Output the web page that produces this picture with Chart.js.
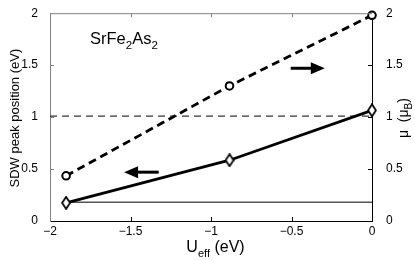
<!DOCTYPE html>
<html><head><meta charset="utf-8">
<script src="https://cdn.jsdelivr.net/npm/chart.js@4/dist/chart.umd.min.js"></script>
<style>html,body{margin:0;padding:0;background:#fff}</style>
</head><body>
<canvas id="c" width="415" height="260"></canvas>
<script>
// ---- data ----
const uEff = [-1.9, -0.885, 0];
const sdwPeak = [0.175, 0.585, 1.065];      // left axis (eV)
const moment = [0.435, 1.30, 1.98];         // right axis (mu_B)
const refSolidX = [-1.9, 0];
const refSolidY = 0.18;
const refDashX = [-2, 0];
const refDashY = 1.01;
const xTicks = [-2, -1.5, -1, -0.5, 0];
const xTickLabels = ['\u22122', '\u22121.5', '\u22121', '\u22120.5', '0'];
const yTicks = [0, 0.5, 1, 1.5, 2];
const yTickLabels = ['0', '0.5', '1', '1.5', '2'];
const arrowLeft = { x0: -1.325, x1: -1.54, y: 0.47, axis: 'y' };
const arrowRight = { x0: -0.505, x1: -0.293, y: 1.47, axis: 'y2' };

const FONT = '"Liberation Sans", Arial, Helvetica, sans-serif';

// MATLAB-like diamond marker
function diamond() {
  const c = document.createElement('canvas');
  c.width = 10; c.height = 14;
  const g = c.getContext('2d');
  g.beginPath();
  g.moveTo(5, 1); g.lineTo(9, 7); g.lineTo(5, 13); g.lineTo(1, 7); g.closePath();
  g.fillStyle = '#fff'; g.fill();
  g.lineWidth = 1.8; g.strokeStyle = '#000'; g.stroke();
  return c;
}

function pts(xs, ys) { return xs.map((x, i) => ({ x: x, y: Array.isArray(ys) ? ys[i] : ys })); }

function richWidth(ctx, parts, size, subSize) {
  let w = 0;
  for (const p of parts) {
    ctx.font = (p.sub ? subSize : size) + 'px ' + FONT;
    w += ctx.measureText(p.t).width;
  }
  return w;
}
function drawRich(ctx, parts, x, y, size, subSize, subDrop) {
  let cx = x;
  ctx.textAlign = 'left';
  ctx.textBaseline = 'alphabetic';
  for (const p of parts) {
    ctx.font = (p.sub ? subSize : size) + 'px ' + FONT;
    ctx.fillText(p.t, cx, p.sub ? y + subDrop : y);
    cx += ctx.measureText(p.t).width;
  }
}

const decor = {
  id: 'decor',
  afterDatasetsDraw(chart) {
    const { ctx, chartArea: a, scales } = chart;
    const x = scales.x, y = scales.y, y2 = scales.y2;
    ctx.save();
    // top frame line
    ctx.strokeStyle = '#808080'; ctx.lineWidth = 1;
    ctx.beginPath(); ctx.moveTo(a.left, a.top + 0.5); ctx.lineTo(a.right, a.top + 0.5); ctx.stroke();
    // inward ticks
    for (const v of xTicks.slice(1, -1)) {
      const px = Math.round(x.getPixelForValue(v)) + 0.5;
      ctx.strokeStyle = '#000';
      ctx.beginPath(); ctx.moveTo(px, a.bottom); ctx.lineTo(px, a.bottom - 4); ctx.stroke();
      ctx.strokeStyle = '#808080';
      ctx.beginPath(); ctx.moveTo(px, a.top); ctx.lineTo(px, a.top + 4); ctx.stroke();
    }
    for (const v of yTicks.slice(1, -1)) {
      const py = Math.round(y.getPixelForValue(v)) + 0.5;
      ctx.strokeStyle = '#808080';
      ctx.beginPath(); ctx.moveTo(a.left, py); ctx.lineTo(a.left + 4, py); ctx.stroke();
      const py2 = Math.round(y2.getPixelForValue(v)) + 0.5;
      ctx.strokeStyle = '#000';
      ctx.beginPath(); ctx.moveTo(a.right, py2); ctx.lineTo(a.right - 4, py2); ctx.stroke();
    }
    // arrows
    for (const ar of [arrowLeft, arrowRight]) {
      const ys = scales[ar.axis];
      const X0 = x.getPixelForValue(ar.x0), X1 = x.getPixelForValue(ar.x1);
      const Y = ys.getPixelForValue(ar.y);
      const dir = Math.sign(X1 - X0);
      const head = 14, half = 6;
      ctx.strokeStyle = '#000'; ctx.fillStyle = '#000'; ctx.lineWidth = 3;
      ctx.beginPath(); ctx.moveTo(X0, Y); ctx.lineTo(X1 - dir * head * 0.8, Y); ctx.stroke();
      ctx.beginPath();
      ctx.moveTo(X1, Y); ctx.lineTo(X1 - dir * head, Y - half); ctx.lineTo(X1 - dir * head, Y + half);
      ctx.closePath(); ctx.fill();
    }
    ctx.restore();
  },
  afterDraw(chart) {
    const { ctx, chartArea: a } = chart;
    ctx.save();
    ctx.fillStyle = '#000';
    // compound label
    drawRich(ctx, [{ t: 'SrFe' }, { t: '2', sub: 1 }, { t: 'As' }, { t: '2', sub: 1 }], 90, 43.5, 16.5, 11.5, 5);
    // x title
    const xp = [{ t: 'U' }, { t: 'eff', sub: 1 }, { t: ' (eV)' }];
    const xw = richWidth(ctx, xp, 16, 11);
    drawRich(ctx, xp, 215.5 - xw / 2, 252, 16, 11, 5);
    // left title
    ctx.save();
    ctx.translate(19, (a.top + a.bottom) / 2 + 1);
    ctx.rotate(-Math.PI / 2);
    ctx.font = '13px ' + FONT; ctx.textAlign = 'center'; ctx.textBaseline = 'alphabetic';
    ctx.fillText('SDW peak position (eV)', 0, 0);
    ctx.restore();
    // right title
    ctx.save();
    ctx.translate(408, (a.top + a.bottom) / 2 + 1);
    ctx.rotate(-Math.PI / 2);
    const rp = [{ t: '\u03BC  (\u03BC' }, { t: 'B', sub: 1 }, { t: ')' }];
    const rw = richWidth(ctx, rp, 14, 10);
    drawRich(ctx, rp, -rw / 2, 0, 14, 10, 4);
    ctx.restore();
    ctx.restore();
  }
};

new Chart(document.getElementById('c'), {
  type: 'line',
  data: {
    datasets: [
      {
        label: 'moment', yAxisID: 'y2', data: pts(uEff, moment),
        borderColor: '#000', borderWidth: 2.8, borderDash: [8, 5],
        pointStyle: 'circle', pointRadius: 3.8, pointBorderWidth: 2,
        pointBackgroundColor: '#fff', pointBorderColor: '#000', clip: false
      },
      {
        label: 'sdw', yAxisID: 'y', data: pts(uEff, sdwPeak),
        borderColor: '#000', borderWidth: 2.8,
        pointStyle: diamond(), pointRadius: 6, clip: false
      },
      {
        label: 'refSolid', yAxisID: 'y', data: pts(refSolidX, refSolidY),
        borderColor: '#555', borderWidth: 1.4, pointRadius: 0
      },
      {
        label: 'refDash', yAxisID: 'y', data: pts(refDashX, refDashY),
        borderColor: '#333', borderWidth: 1.3, borderDash: [7, 5], pointRadius: 0
      }
    ]
  },
  options: {
    responsive: false, animation: false, devicePixelRatio: 1,
    layout: { padding: { top: 9, left: 0, right: 0, bottom: 0 } },
    plugins: { legend: { display: false }, tooltip: { enabled: false } },
    scales: {
      x: {
        type: 'linear', position: 'bottom', min: -2, max: 0,
        afterBuildTicks: s => { s.ticks = xTicks.map(v => ({ value: v })); },
        afterFit: s => { s.height = 39; },
        grid: { display: false },
        border: { display: true, color: '#000', width: 1 },
        ticks: {
          autoSkip: false, maxRotation: 0, padding: -5, color: '#000',
          font: { family: FONT, size: 12 },
          callback: v => xTickLabels[xTicks.indexOf(v)]
        }
      },
      y: {
        type: 'linear', position: 'left', min: 0, max: 2,
        afterBuildTicks: s => { s.ticks = yTicks.map(v => ({ value: v })); },
        afterFit: s => { s.width = 50; },
        grid: { display: false },
        border: { display: true, color: '#808080', width: 1 },
        ticks: {
          padding: 4, color: '#000', font: { family: FONT, size: 12 },
          callback: v => yTickLabels[yTicks.indexOf(v)]
        }
      },
      y2: {
        type: 'linear', position: 'right', min: 0, max: 2,
        afterBuildTicks: s => { s.ticks = yTicks.map(v => ({ value: v })); },
        afterFit: s => { s.width = 43; },
        grid: { display: false },
        border: { display: true, color: '#000', width: 1 },
        ticks: {
          padding: 6, color: '#000', font: { family: FONT, size: 12 },
          callback: v => yTickLabels[yTicks.indexOf(v)]
        }
      }
    }
  },
  plugins: [decor]
});
</script>
</body></html>
